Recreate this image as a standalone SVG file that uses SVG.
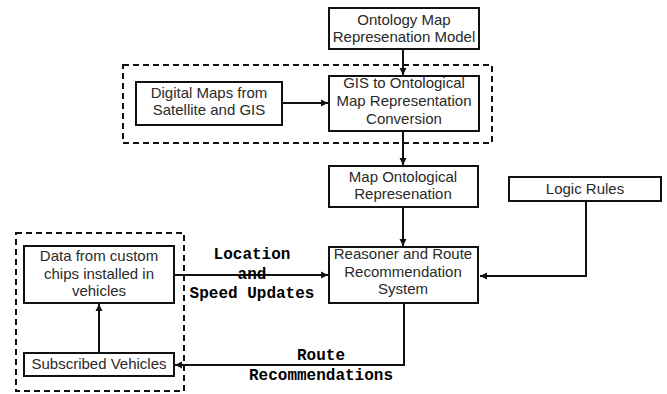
<svg xmlns="http://www.w3.org/2000/svg" width="667" height="394" viewBox="0 0 667 394">
<style>
.box{fill:#fff;stroke:#111;stroke-width:2}
.grp{fill:none;stroke:#111;stroke-width:2;stroke-dasharray:6 4}
.t{font-family:"Liberation Sans",Arial,sans-serif;font-size:15px;fill:#2a2a2a;text-anchor:middle}
.lbl{font-family:"Liberation Mono","Courier New",monospace;font-size:16px;font-weight:bold;fill:#000;text-anchor:middle}
.c{fill:none;stroke:#111;stroke-width:2}
</style>
<defs>
<marker id="ah" markerWidth="8" markerHeight="8" refX="7" refY="4" orient="auto" markerUnits="userSpaceOnUse">
<path d="M0,0.5 L7,4 L0,7.5 Z" fill="#111"/>
</marker>
</defs>
<rect class="grp" x="123" y="65" width="369" height="78"/>
<rect class="grp" x="16" y="233" width="168" height="158"/>
<g id="connectors">
<line class="c" x1="403" y1="49" x2="403" y2="75" marker-end="url(#ah)"/>
<line class="c" x1="282" y1="103" x2="328" y2="103" marker-end="url(#ah)"/>
<line class="c" x1="403" y1="131" x2="403" y2="165" marker-end="url(#ah)"/>
<line class="c" x1="403" y1="207" x2="403" y2="246" marker-end="url(#ah)"/>
<polyline class="c" points="586,201 586,276 480,276" marker-end="url(#ah)"/>
<line class="c" x1="174" y1="275" x2="328" y2="275" marker-end="url(#ah)"/>
<line class="c" x1="99" y1="353" x2="99" y2="304" marker-end="url(#ah)"/>
<polyline class="c" points="404,303 404,365 175,365" marker-end="url(#ah)"/>
<text class="lbl" x="252" y="259">Location</text>
<text class="lbl" x="252" y="279">and</text>
<text class="lbl" x="252" y="298">Speed Updates</text>
<text class="lbl" x="321" y="360">Route</text>
<text class="lbl" x="321" y="380">Recommendations</text>
</g>
<g id="ontology">
<rect class="box" x="329" y="8" width="150" height="41"/>
<text class="t" x="404" y="25">Ontology Map</text>
<text class="t" x="404" y="42">Represenation Model</text>
</g>
<g id="digital">
<rect class="box" x="136" y="82" width="146" height="43"/>
<text class="t" x="209" y="98">Digital Maps from</text>
<text class="t" x="209" y="115">Satellite and GIS</text>
</g>
<g id="gis">
<rect class="box" x="329" y="76" width="150" height="55"/>
<text class="t" x="404" y="88">GIS to Ontological</text>
<text class="t" x="404" y="106">Map Representation</text>
<text class="t" x="404" y="124">Conversion</text>
</g>
<g id="mapont">
<rect class="box" x="329" y="166" width="149" height="41"/>
<text class="t" x="403" y="182">Map Ontological</text>
<text class="t" x="403" y="199">Represenation</text>
</g>
<g id="logic">
<rect class="box" x="509" y="177" width="152" height="24"/>
<text class="t" x="585" y="194">Logic Rules</text>
</g>
<g id="reasoner">
<rect class="box" x="329" y="247" width="149" height="56"/>
<text class="t" x="403" y="259">Reasoner and Route</text>
<text class="t" x="403" y="277">Recommendation</text>
<text class="t" x="403" y="294">System</text>
</g>
<g id="data">
<rect class="box" x="24" y="246" width="150" height="57"/>
<text class="t" x="99" y="261">Data from custom</text>
<text class="t" x="99" y="279">chips installed in</text>
<text class="t" x="99" y="296">vehicles</text>
</g>
<g id="subscribed">
<rect class="box" x="24" y="353" width="150" height="23"/>
<text class="t" x="99" y="369">Subscribed Vehicles</text>
</g>
</svg>
